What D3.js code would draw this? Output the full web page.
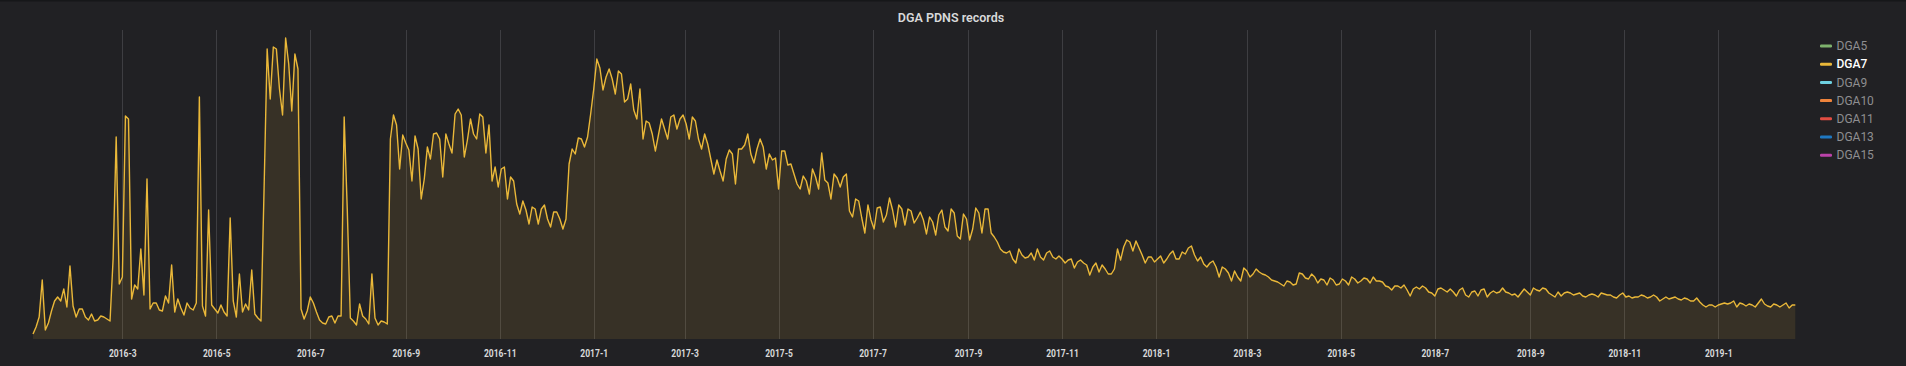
<!DOCTYPE html>
<html><head><meta charset="utf-8">
<script src="https://cdn.jsdelivr.net/npm/d3@7/dist/d3.min.js"></script>
<style>
html,body{margin:0;padding:0;background:#212124;}
svg{display:block;}
</style></head><body>
<svg id="chart" width="1906" height="366"></svg>
<script>
const chartTitle = "DGA PDNS records";
const startDate = "2016-01-03";
const stepDays = 2;
const values = [
5,12,22,59,9,16,28,38,42,38,
50,32,73,33,22,30,30,22,19,25,
18,19,23,22,20,18,80,202,55,62,
223,220,40,54,50,90,44,160,30,36,
36,29,28,43,36,74,27,40,31,24,
36,31,29,36,242,33,23,129,34,30,
26,34,27,23,121,38,22,65,27,35,
29,69,25,21,18,150,290,240,292,290,
250,224,301,275,228,285,270,30,20,28,
42,36,27,19,16,15,22,23,16,23,
23,222,130,21,18,14,35,23,20,15,
65,21,14,18,17,15,200,224,214,170,
204,196,189,158,203,190,140,160,192,180,
205,206,200,162,205,195,186,225,230,224,
182,199,220,205,200,225,222,186,214,158,
172,152,170,172,140,162,158,135,125,138,
129,115,132,130,115,130,134,120,112,127,
127,120,110,120,175,190,185,201,200,192,
202,225,250,280,271,249,262,270,260,245,
268,265,237,240,255,229,220,250,200,218,
216,205,188,204,220,210,200,222,224,210,
220,224,215,200,222,218,200,190,205,195,
180,165,179,168,158,180,189,185,155,190,
190,194,205,185,176,190,200,192,170,185,
179,181,150,188,188,174,175,165,155,150,
163,158,145,170,162,150,186,159,156,140,
165,161,152,162,165,128,122,140,138,121,
106,134,119,110,131,132,117,124,141,129,
112,134,130,114,130,128,116,121,127,119,
105,122,117,104,124,129,112,108,130,126,
103,100,125,120,99,110,131,126,106,130,
130,106,102,97,90,87,86,88,80,76,
90,84,81,82,86,79,90,82,79,86,
88,82,80,83,80,76,79,80,71,77,
79,76,74,64,72,76,67,74,70,65,
65,70,90,79,92,99,97,88,98,91,
84,76,82,82,77,80,83,76,80,85,
88,80,80,87,85,91,93,84,78,82,
75,72,76,78,72,62,72,70,66,58,
68,62,58,71,68,62,65,70,67,65,
64,62,59,58,57,55,53,58,57,54,
55,66,65,61,60,65,62,56,60,59,
54,61,59,54,55,60,58,54,62,60,
56,58,61,60,56,62,58,58,57,53,
52,49,53,53,51,54,49,43,50,52,
50,53,51,47,46,43,50,51,49,47,
50,47,43,49,51,44,42,47,48,43,
49,50,42,46,48,46,47,51,47,46,
44,45,42,46,50,47,44,51,49,48,
51,50,46,44,42,47,43,46,47,46,
44,45,46,43,42,44,45,44,42,46,
45,44,44,42,41,44,46,42,43,41,
42,42,44,43,41,42,44,42,38,40,
42,40,41,42,40,39,41,40,38,38,
41,37,34,32,34,34,32,34,35,36,
35,36,38,32,36,35,33,35,34,32,
36,40,35,33,32,35,34,32,34,36,
31,34,34
];
const tickLabels = ["2016-3","2016-5","2016-7","2016-9","2016-11","2017-1","2017-3","2017-5","2017-7","2017-9","2017-11","2018-1","2018-3","2018-5","2018-7","2018-9","2018-11","2019-1"];
const seriesNames = ["DGA5","DGA7","DGA9","DGA10","DGA11","DGA13","DGA15"];
const seriesColors = ["#7EB26D","#EAB839","#6ED0E0","#EF843C","#E24D42","#1F78C1","#BA43A9"];
const activeSeries = "DGA7";
const yMax = 309;

const svg = d3.select("#chart");
const W = 1906, H = 366;
const plot = {left: 33, right: 1795.3, top: 30, bottom: 339};

const DAY = 86400000;
const t0 = new Date(startDate + "T00:00:00Z");
const data = values.map((v, i) => ({date: new Date(t0.getTime() + i * stepDays * DAY), value: v}));
const tEnd = data[data.length - 1].date;

const x = d3.scaleUtc().domain([t0, tEnd]).range([plot.left, plot.right]);
const y = d3.scaleLinear().domain([0, yMax]).range([plot.bottom, plot.top]);

svg.append("rect").attr("x", 0).attr("y", 0).attr("width", W).attr("height", H).attr("fill", "#212124");
svg.append("rect").attr("x", 0).attr("y", 0).attr("width", W).attr("height", 1.5).attr("fill", "#161719");

const tickDates = tickLabels.map(s => { const [yy, mm] = s.split("-"); return new Date(Date.UTC(+yy, +mm - 1, 1)); });

// grid
svg.append("g").selectAll("line").data(tickDates).join("line")
  .attr("x1", d => Math.round(x(d)) + 0.5).attr("x2", d => Math.round(x(d)) + 0.5)
  .attr("y1", plot.top).attr("y2", plot.bottom)
  .attr("stroke", "#3e3e42").attr("stroke-width", 1);

// area + line
const area = d3.area().x(d => x(d.date)).y0(y(0)).y1(d => y(d.value));
const line = d3.line().x(d => x(d.date)).y(d => y(d.value));
svg.append("path").datum(data).attr("d", area).attr("fill", "#EAB839").attr("fill-opacity", 0.11);
svg.append("path").datum(data).attr("d", line).attr("fill", "none").attr("stroke", "#EAB839").attr("stroke-width", 1.4).attr("stroke-linejoin", "round");

// x axis
const axis = d3.axisBottom(x).tickValues(tickDates).tickFormat((d, i) => tickLabels[i]).tickSize(0).tickPadding(10);
const gx = svg.append("g").attr("transform", `translate(0,${plot.bottom})`).call(axis);
gx.select(".domain").remove();
gx.selectAll("text")
  .attr("fill", "#d8d9da")
  .style("font-family", "Roboto, 'Noto Sans', sans-serif")
  .style("font-size", "11.5px")
  .style("font-weight", "700")
  .attr("transform", "scale(0.74,1)");

// title
svg.append("text").attr("x", 951).attr("y", 21.7).attr("text-anchor", "middle")
  .attr("fill", "#d8d9da").style("font-family", "Roboto, 'Noto Sans', sans-serif")
  .style("font-size", "12.5px").style("font-weight", "600").text(chartTitle);

// legend
const lg = svg.append("g").selectAll("g").data(seriesNames).join("g")
  .attr("transform", (d, i) => `translate(1820,${46 + i * 18.2})`);
lg.append("rect").attr("x", 0).attr("y", -1.5).attr("width", 12).attr("height", 3).attr("rx", 1.2)
  .attr("fill", (d, i) => seriesColors[i]);
lg.append("text").attr("x", 16.5).attr("y", 4.2)
  .attr("fill", d => d === activeSeries ? "#ffffff" : "#8e8e90")
  .style("font-family", "Roboto, 'Noto Sans', sans-serif")
  .style("font-size", "12px")
  .style("font-weight", d => d === activeSeries ? "500" : "400")
  .text(d => d);
</script>
</body></html>
